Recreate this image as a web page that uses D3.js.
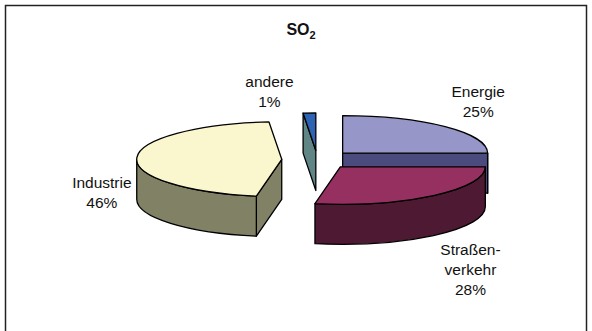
<!DOCTYPE html>
<html>
<head>
<meta charset="utf-8">
<script src="https://cdn.jsdelivr.net/npm/d3@7"></script>
<style>
  body { margin: 0; background: #fff; }
  text { font-family: "Liberation Sans", Arial, sans-serif; fill: #111; }
</style>
</head>
<body>
<script>
// data
const categories = ["Energie", "Straßenverkehr", "Industrie", "andere"];
const labelLines = [["Energie"], ["Straßen-", "verkehr"], ["Industrie"], ["andere"]];
const values = [25.0, 27.8, 45.8, 1.4];

// styles
const topColors  = ["#9696c8", "#963060", "#faf7cf", "#2e62b2"];
const sideColors = ["#4b4b7d", "#4e1932", "#818166", "#5f8584"];
// label nudge from the slice's rim point (layout only)
const labelNudge = [[33, -25], [37, 74], [-35, 35], [-40, -21]];

const W = 592, H = 331;
const cx = 317.4, cy = 159.7,  // pie centre before explosion
      rx = 145, ry = 37.5,     // top ellipse radii
      depth = 40,              // thickness
      explode = 35.7,
      k = ry / rx;

const svg = d3.select("body").append("svg")
  .attr("width", W)
  .attr("height", H)
  .style("display", "block");

// frame (runs past the bottom edge like the source)
svg.append("rect")
  .attr("x", 5.5).attr("y", 5.5)
  .attr("width", 581).attr("height", 360)
  .attr("fill", "none")
  .attr("stroke", "#222")
  .attr("stroke-width", 1.5);

// title SO2
const title = svg.append("text")
  .attr("x", 301).attr("y", 35)
  .attr("text-anchor", "middle")
  .style("font-weight", "bold")
  .style("font-size", "16px");
title.append("tspan").text("SO");
title.append("tspan").attr("dy", 4).style("font-size", "11px").text("2");

const data = categories.map(function(c, i) {
  return {name: c, value: values[i], lines: labelLines[i], top: topColors[i], side: sideColors[i], nudge: labelNudge[i]};
});
const total = d3.sum(values);
const fmt = d3.format(".0%");

const arcs = d3.pie()
  .sort(null)
  .value(function(d) { return d.value; })(data);

function rim(c, t) {
  return [c[0] + rx * Math.sin(t), c[1] - ry * Math.cos(t)];
}
function pt(p, dy) { return p[0] + "," + (p[1] + (dy || 0)); }

arcs.forEach(function(a) {
  const mid = (a.startAngle + a.endAngle) / 2;
  a.c = [cx + explode * Math.sin(mid), cy - explode * k * Math.cos(mid)];
  a.mid = mid;
});

// back to front
const order = arcs.slice().sort(function(a, b) { return a.c[1] - b.c[1]; });

const g = svg.append("g")
  .attr("stroke", "#000")
  .attr("stroke-width", 1.3)
  .attr("stroke-linejoin", "round");

order.forEach(function(a) {
  const c = a.c, s = a.startAngle, e = a.endAngle;
  const slice = g.append("g").attr("class", "slice");

  // radial cut faces
  function cutFace(t) {
    const p = rim(c, t);
    slice.append("path")
      .attr("d", "M" + pt(c) + "L" + pt(p) + "L" + pt(p, depth) + "L" + pt(c, depth) + "Z")
      .attr("fill", a.data.side);
  }
  if (Math.sin(s) < -1e-6) cutFace(s);
  if (Math.sin(e) > 1e-6) cutFace(e);

  // outer wall, front half only
  const ws = Math.max(s, Math.PI / 2), we = Math.min(e, 3 * Math.PI / 2);
  if (ws < we) {
    const p1 = rim(c, ws), p2 = rim(c, we);
    slice.append("path")
      .attr("d", "M" + pt(p1) + "A" + rx + "," + ry + " 0 0 1 " + pt(p2) +
                 "L" + pt(p2, depth) + "A" + rx + "," + ry + " 0 0 0 " + pt(p1, depth) + "Z")
      .attr("fill", a.data.side);
  }

  // top face
  const large = (e - s) > Math.PI ? 1 : 0;
  slice.append("path")
    .attr("d", "M" + pt(c) + "L" + pt(rim(c, s)) +
               "A" + rx + "," + ry + " 0 " + large + " 1 " + pt(rim(c, e)) + "Z")
    .attr("fill", a.data.top);
});

// labels
const lineH = 20;
arcs.forEach(function(a) {
  const p = rim(a.c, a.mid);
  const lines = a.data.lines.concat([fmt(a.data.value / total)]);
  const x = p[0] + a.data.nudge[0];
  const y0 = p[1] + a.data.nudge[1] - (lines.length - 1) * lineH / 2;
  const t = svg.append("text")
    .attr("text-anchor", "middle")
    .style("font-size", "15.5px");
  lines.forEach(function(l, i) {
    t.append("tspan")
      .attr("x", x)
      .attr("y", y0 + i * lineH)
      .attr("dy", "0.35em")
      .text(l);
  });
});
</script>
</body>
</html>
